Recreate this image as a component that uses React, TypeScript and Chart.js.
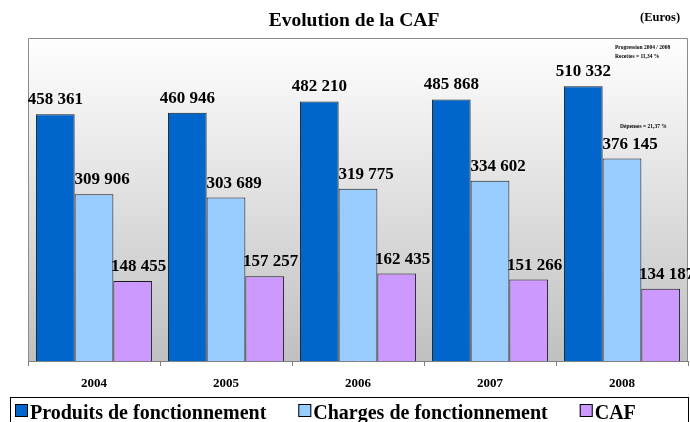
import { useEffect, useRef } from "react";
import { Chart, registerables } from "chart.js";

Chart.register(...registerables);

const categories = ["2004", "2005", "2006", "2007", "2008"];
const produits = [458361, 460946, 482210, 485868, 510332];
const charges = [309906, 303689, 319775, 334602, 376145];
const caf = [148455, 157257, 162435, 151266, 134187];
const seriesNames = ["Produits de fonctionnement", "Charges de fonctionnement", "CAF"];
const seriesColors = ["#0066cc", "#99ccff", "#cc99ff"];
const titleText = "Evolution de la CAF";
const unitText = "(Euros)";
const noteRecettes = ["Progression 2004 / 2008", "Recettes = 11,34 %"];
const noteDepenses = "Dépenses = 21,37 %";
const yMax = 600000;

const SERIF = '"Liberation Serif", "Times New Roman", serif';

function fmt(n: number): string {
  return String(n).replace(/\B(?=(\d{3})+(?!\d))/g, " ");
}

const decorPlugin = {
  id: "decor",
  beforeDatasetsDraw(chart: any) {
    const { ctx, chartArea: a } = chart;
    ctx.save();
    const g = ctx.createLinearGradient(0, a.top, 0, a.bottom);
    g.addColorStop(0, "#ffffff");
    g.addColorStop(1, "#c0c0c0");
    ctx.fillStyle = g;
    ctx.fillRect(a.left, a.top, a.right - a.left, a.bottom - a.top);
    ctx.strokeStyle = "#8c8c8c";
    ctx.lineWidth = 1;
    ctx.beginPath();
    ctx.moveTo(a.left + 0.5, a.bottom);
    ctx.lineTo(a.left + 0.5, a.top + 0.5);
    ctx.lineTo(a.right - 0.5, a.top + 0.5);
    ctx.lineTo(a.right - 0.5, a.bottom);
    ctx.stroke();
    ctx.restore();
  },
  afterDraw(chart: any) {
    const { ctx, chartArea: a } = chart;
    ctx.save();
    ctx.fillStyle = "#000";
    // title
    ctx.font = `bold 19.5px ${SERIF}`;
    ctx.textAlign = "center";
    ctx.textBaseline = "alphabetic";
    ctx.fillText(titleText, (a.left + a.right) / 2 - 4, 26);
    ctx.font = `bold 12.5px ${SERIF}`;
    ctx.textAlign = "left";
    ctx.fillText(unitText, 640, 21);

    // value labels
    const offsets = [0, 8, 6];
    ctx.font = `bold 17px ${SERIF}`;
    ctx.textAlign = "center";
    chart.data.datasets.forEach((ds: any, di: number) => {
      const meta = chart.getDatasetMeta(di);
      meta.data.forEach((bar: any, i: number) => {
        ctx.fillText(fmt(ds.data[i]), bar.x + offsets[di], bar.y - 10);
      });
    });

    // notes
    ctx.font = `bold 5.5px ${SERIF}`;
    ctx.textAlign = "left";
    ctx.fillText(noteRecettes[0], a.right - 73, 49);
    ctx.fillText(noteRecettes[1], a.right - 73, 58);
    const lastBar = chart.getDatasetMeta(1).data[categories.length - 1];
    ctx.fillText(noteDepenses, lastBar.x - 2, lastBar.y - 31);

    // legend
    const lx = 10, ly = 397;
    ctx.strokeStyle = "#000";
    ctx.lineWidth = 1;
    ctx.strokeRect(lx + 0.5, ly + 0.5, 678, 40);
    ctx.font = `bold 20px ${SERIF}`;
    ctx.textBaseline = "alphabetic";
    let x = 15;
    chart.data.datasets.forEach((ds: any) => {
      ctx.fillStyle = ds.backgroundColor;
      ctx.fillRect(x, 404, 13, 13);
      ctx.strokeStyle = "#000";
      ctx.strokeRect(x + 0.5, 404.5, 12, 12);
      ctx.fillStyle = "#000";
      ctx.fillText(ds.label, x + 15, 419);
      x += 15 + ctx.measureText(ds.label).width + 32;
    });
    ctx.restore();
  },
};

export default function App() {
  const ref = useRef<HTMLCanvasElement | null>(null);
  useEffect(() => {
    if (!ref.current) return;
    const series = [produits, charges, caf];
    const chart = new Chart(ref.current, {
      type: "bar",
      data: {
        labels: categories,
        datasets: series.map((d, i) => ({
          label: seriesNames[i],
          data: d,
          backgroundColor: seriesColors[i],
          borderColor: "#1a1a1a",
          borderWidth: 1,
          barPercentage: 1,
          categoryPercentage: 0.88,
        })),
      },
      options: {
        responsive: false,
        animation: false,
        layout: { padding: { left: 28, right: 2, top: 38, bottom: 32 } },
        plugins: {
          legend: { display: false },
          title: { display: false },
          tooltip: { enabled: false },
        },
        scales: {
          x: {
            offset: true,
            grid: {
              offset: true,
              drawOnChartArea: false,
              drawTicks: true,
              tickLength: 5,
              color: "#808080",
            },
            border: { display: true, color: "#808080" },
            ticks: {
              color: "#000",
              padding: 10,
              font: { family: SERIF, size: 13, weight: "bold" },
            },
            afterFit: (s: any) => {
              s.height = 29;
            },
          },
          y: {
            display: false,
            min: 0,
            max: yMax,
          },
        },
      },
      plugins: [decorPlugin],
    });
    return () => chart.destroy();
  }, []);
  return (
    <div style={{ position: "absolute", left: 0, top: 0, width: 690, height: 422, background: "#fff" }}>
      <canvas ref={ref} width={690} height={422} />
    </div>
  );
}
